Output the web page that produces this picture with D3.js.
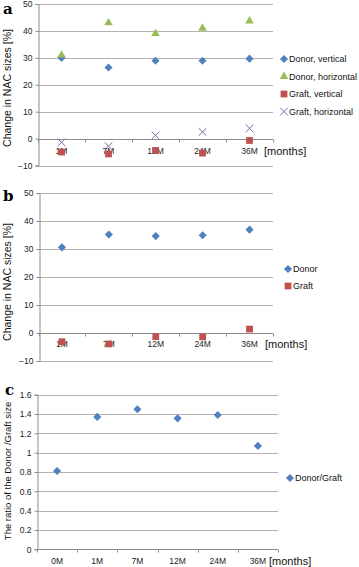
<!DOCTYPE html>
<meta charset="utf-8">
<head>
	<title>NAC size change</title>
</head>

<style>
body { margin: 0; background: #fff; }
svg { display: block; font-family: "Liberation Sans", Arial, sans-serif; }
.grid line { stroke: #b3b3b3; stroke-width: 1; }
.axisline { stroke: #8c8c8c; stroke-width: 1; }
.tick-label { font-size: 8.5px; fill: #222; }
.leg { font-size: 9px; fill: #111; }
.ytitle { fill: #111; }
.months { font-size: 11px; fill: #111; }
.panel { font-family: "DejaVu Serif", "Liberation Serif", serif; font-weight: bold; font-size: 15px; }
</style>

<body>
<svg width="359" height="567"></svg>

<script src="https://cdnjs.cloudflare.com/ajax/libs/d3/7.8.5/d3.min.js"></script>
<script>

// panel a
var months_a = ["1M", "7M", "12M", "24M", "36M"];
var donor_vertical = [30, 26.4, 28.9, 28.9, 29.7];
var donor_horizontal = [31, 43, 39, 41, 43.7];
var graft_vertical = [-5, -5.7, -4.4, -5.4, -0.7];
var graft_horizontal = [-1.4, -2.8, 1.2, 2.5, 3.8];
var ticks_a = [-10, 0, 10, 20, 30, 40, 50];

// panel b
var months_b = ["1M", "7M", "12M", "24M", "36M"];
var donor = [30.6, 35.2, 34.6, 34.9, 36.9];
var graft = [-3.1, -3.9, -1.3, -1.4, 1.4];
var ticks_b = [-10, 0, 10, 20, 30, 40, 50];

// panel c
var months_c = ["0M", "1M", "7M", "12M", "24M", "36M"];
var ratio = [0.81, 1.37, 1.45, 1.355, 1.39, 1.07];
var ticks_c = [0, 0.2, 0.4, 0.6, 0.8, 1, 1.2, 1.4, 1.6];

var colors = {blue: "#4f81bd", green: "#9bbb59", red: "#c0504d", purple: "#8064a2"};

var svg = d3.select("svg");

var sym = {
	diamond: d3.symbol().type(d3.symbolDiamond2).size(42),
	triangle: d3.symbol().type(d3.symbolTriangle).size(32),
	square: d3.symbol().type(d3.symbolSquare).size(46),
	cross: d3.symbol().type(d3.symbolX).size(40)
};

function drawMarker(g, shape, color, x, y) {
	var p = g.append("path")
		.attr("d", sym[shape]())
		.attr("transform", "translate(" + x + "," + y + ")");
	if (shape == "cross") {
		p.attr("fill", "none").attr("stroke", color).attr("stroke-width", 1);
	} else {
		p.attr("fill", color);
	}
}

// one chart panel
function panel(opt) {
	var g = svg.append("g");
	var x = d3.scaleBand().domain(opt.cats).range(opt.xr);
	var y = d3.scaleLinear().domain(d3.extent(opt.ticks)).range(opt.yr);

	// gridlines
	g.append("g").attr("class", "grid")
		.selectAll("line").data(opt.ticks).join("line")
		.attr("x1", opt.xr[0]).attr("x2", opt.xr[1])
		.attr("y1", function(d){ return Math.round(y(d)) + 0.5; })
		.attr("y2", function(d){ return Math.round(y(d)) + 0.5; });

	// y axis
	var yAxis = d3.axisLeft(y).tickValues(opt.ticks).tickSize(3).tickFormat(opt.fmt || d3.format("d"));
	var ya = g.append("g").attr("transform", "translate(" + (Math.round(opt.xr[0]) + 0.5) + ",0)").call(yAxis);
	ya.select(".domain").attr("stroke", "#8c8c8c");
	ya.selectAll(".tick line").attr("stroke", "#8c8c8c");
	ya.selectAll(".tick text").attr("class", "tick-label").attr("x", -6);
	ya.attr("font-size", null).attr("font-family", null);

	// x axis along zero
	var y0 = Math.round(y(0)) + 0.5;
	g.append("line").attr("class", "axisline")
		.attr("x1", opt.xr[0]).attr("x2", opt.xr[1]).attr("y1", y0).attr("y2", y0);
	var bounds = opt.cats.map(function(c){ return x(c); }).concat([opt.xr[1]]);
	g.selectAll(".xt").data(bounds).join("line").attr("class", "axisline")
		.attr("x1", function(d){ return Math.round(d) + 0.5; })
		.attr("x2", function(d){ return Math.round(d) + 0.5; })
		.attr("y1", y0).attr("y2", y0 + 3);
	g.selectAll(".xl").data(opt.cats).join("text").attr("class", "tick-label")
		.attr("x", function(d){ return x(d) + x.bandwidth() / 2; })
		.attr("y", opt.labelY)
		.attr("text-anchor", "middle")
		.text(function(d){ return d; });
	g.append("text").attr("class", "months")
		.attr("x", opt.monthsX).attr("y", opt.labelY + 1)
		.text("[months]");

	// series
	opt.series.forEach(function(s, i) {
		s.values.forEach(function(v, j) {
			drawMarker(g, s.shape, s.color, x(opt.cats[j]) + x.bandwidth() / 2, y(v));
		});
		// legend
		var ly = opt.legY + i * opt.legStep;
		drawMarker(g, s.shape, s.color, opt.legX, ly);
		g.append("text").attr("class", "leg")
			.attr("x", opt.legX + 5).attr("y", ly + 3)
			.text(s.name);
	});

	// y title
	g.append("text").attr("class", "ytitle")
		.attr("transform", "translate(" + opt.titleX + "," + opt.titleY + ") rotate(-90)")
		.attr("text-anchor", "middle")
		.style("font-size", opt.titleSize + "px")
		.text(opt.title);

	// panel letter
	g.append("text").attr("class", "panel")
		.attr("x", opt.letterX).attr("y", opt.letterY)
		.text(opt.letter);
}

panel({
	cats: months_a, ticks: ticks_a,
	xr: [38, 273], yr: [165.5, 4],
	labelY: 154, monthsX: 264,
	series: [
		{name: "Donor, vertical", values: donor_vertical, shape: "diamond", color: colors.blue},
		{name: "Donor, horizontal", values: donor_horizontal, shape: "triangle", color: colors.green},
		{name: "Graft, vertical", values: graft_vertical, shape: "square", color: colors.red},
		{name: "Graft, horizontal", values: graft_horizontal, shape: "cross", color: colors.purple}
	],
	legX: 284, legY: 59, legStep: 17.5,
	title: "Change in NAC sizes  [%]", titleX: 11, titleY: 88, titleSize: 10.5,
	letter: "a", letterX: 3, letterY: 14
});

panel({
	cats: months_b, ticks: ticks_b,
	xr: [38.5, 273], yr: [361, 193],
	labelY: 347, monthsX: 265,
	series: [
		{name: "Donor", values: donor, shape: "diamond", color: colors.blue},
		{name: "Graft", values: graft, shape: "square", color: colors.red}
	],
	legX: 288, legY: 269, legStep: 17,
	title: "Change in NAC sizes  [%]", titleX: 11, titleY: 282, titleSize: 10.5,
	letter: "b", letterX: 3, letterY: 201
});

panel({
	cats: months_c, ticks: ticks_c,
	xr: [37, 278], yr: [549.3, 394.7],
	labelY: 564, monthsX: 269,
	fmt: function(d){ return d3.format("~g")(d); },
	series: [
		{name: "Donor/Graft", values: ratio, shape: "diamond", color: colors.blue}
	],
	legX: 290, legY: 478, legStep: 17,
	title: "The ratio of the Donor /Graft size", titleX: 11, titleY: 471, titleSize: 9.5,
	letter: "c", letterX: 5, letterY: 395
});

</script>
</body>
</html>
